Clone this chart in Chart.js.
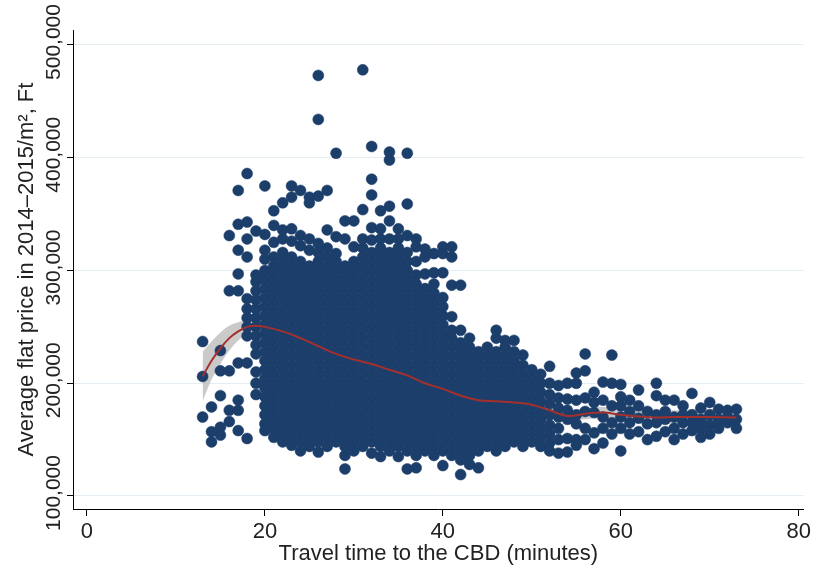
<!DOCTYPE html>
<html>
<head>
<meta charset="utf-8">
<script src="https://cdn.jsdelivr.net/npm/chart.js@4.4.1/dist/chart.umd.min.js"></script>
<style>
  html, body { margin: 0; padding: 0; background: #fff; }
  #wrap { width: 814px; height: 573px; }
</style>
</head>
<body>
<div id="wrap"><canvas id="chart" width="814" height="573"></canvas></div>
<script>
// prices are in thousand Ft / m2, grouped by travel time (minutes)
const westFringe = [
  [13, [237, 206, 170]],
  [14, [179, 157, 148]],
  [15, [229, 211, 189, 161, 154]],
  [16, [331, 282, 211, 176, 166]],
  [17, [371, 341, 318, 297, 282, 218, 185, 176, 158]],
  [18, [386, 343, 328, 312, 275, 266, 258, 250, 242, 218, 151]],
  [19, [335, 296, 290, 282, 274, 266, 258, 250, 242, 234, 226, 210, 200, 190]]
];

const denseCore = [
  [20, [375, 332, 318, 310, 300, 292, 284, 276, 268, 260, 252, 244, 236, 228, 220, 212, 204, 196, 188, 180, 172, 164, 158]],
  [21, [353, 340, 325, 312, 304, 296, 288, 280, 272, 264, 256, 248, 240, 232, 224, 216, 208, 200, 192, 184, 176, 168, 160, 152]],
  [22, [360, 336, 328, 316, 308, 300, 292, 284, 276, 268, 260, 252, 244, 236, 228, 220, 212, 204, 196, 188, 180, 172, 164, 156, 148]],
  [23, [375, 365, 337, 326, 312, 304, 296, 288, 280, 272, 264, 256, 248, 240, 232, 224, 216, 208, 200, 192, 184, 176, 168, 160, 152, 145]],
  [24, [371, 331, 322, 308, 300, 292, 284, 276, 268, 260, 252, 244, 236, 228, 220, 212, 204, 196, 188, 180, 172, 164, 156, 148, 140]],
  [25, [365, 360, 328, 318, 304, 296, 288, 280, 272, 264, 256, 248, 240, 232, 224, 216, 208, 200, 192, 184, 176, 168, 160, 152, 144]],
  [26, [473, 434, 366, 324, 316, 308, 300, 292, 284, 276, 268, 260, 252, 244, 236, 228, 220, 212, 204, 196, 188, 180, 172, 164, 156, 148, 139]],
  [27, [371, 336, 320, 312, 304, 296, 288, 280, 272, 264, 256, 248, 240, 232, 224, 216, 208, 200, 192, 184, 176, 168, 160, 152, 144]],
  [28, [404, 330, 315, 308, 300, 292, 284, 276, 268, 260, 252, 244, 236, 228, 220, 212, 204, 196, 188, 180, 172, 164, 156, 148]],
  [29, [344, 328, 304, 296, 288, 280, 272, 264, 256, 248, 240, 232, 224, 216, 208, 200, 192, 184, 176, 168, 160, 152, 144, 136, 124]],
  [30, [344, 321, 308, 300, 292, 284, 276, 268, 260, 252, 244, 236, 228, 220, 212, 204, 196, 188, 180, 172, 164, 156, 148, 140]],
  [31, [478, 354, 328, 320, 312, 304, 296, 288, 280, 272, 264, 256, 248, 240, 232, 224, 216, 208, 200, 192, 184, 176, 168, 160, 152, 144]],
  [32, [410, 381, 367, 338, 327, 316, 308, 300, 292, 284, 276, 268, 260, 252, 244, 236, 228, 220, 212, 204, 196, 188, 180, 172, 164, 156, 148, 138]],
  [33, [353, 337, 328, 320, 312, 304, 296, 288, 280, 272, 264, 256, 248, 240, 232, 224, 216, 208, 200, 192, 184, 176, 168, 160, 152, 144, 135]],
  [34, [405, 398, 357, 344, 328, 316, 308, 300, 292, 284, 276, 268, 260, 252, 244, 236, 228, 220, 212, 204, 196, 188, 180, 172, 164, 156, 148, 140]],
  [35, [337, 328, 320, 312, 304, 296, 288, 280, 272, 264, 256, 248, 240, 232, 224, 216, 208, 200, 192, 184, 176, 168, 160, 152, 144, 135]],
  [36, [404, 359, 331, 316, 308, 300, 292, 284, 276, 268, 260, 252, 244, 236, 228, 220, 212, 204, 196, 188, 180, 172, 164, 156, 148, 140, 124]],
  [37, [328, 321, 308, 296, 288, 280, 272, 264, 256, 248, 240, 232, 224, 216, 208, 200, 192, 184, 176, 168, 160, 152, 144, 136, 125]],
  [38, [319, 312, 297, 284, 276, 268, 260, 252, 244, 236, 228, 220, 212, 204, 196, 188, 180, 172, 164, 156, 148, 140]],
  [39, [315, 298, 288, 280, 272, 264, 256, 248, 240, 232, 224, 216, 208, 200, 192, 184, 176, 168, 160, 152, 144, 136]],
  [40, [321, 315, 298, 276, 268, 260, 252, 244, 236, 228, 220, 212, 204, 196, 188, 180, 172, 164, 156, 148, 140, 127]],
  [41, [321, 312, 287, 259, 247, 240, 232, 224, 216, 208, 200, 192, 184, 176, 168, 160, 152, 144, 136]],
  [42, [287, 247, 236, 228, 220, 212, 204, 196, 188, 180, 172, 164, 156, 148, 140, 132, 119]],
  [43, [240, 232, 224, 216, 208, 200, 192, 184, 176, 168, 160, 152, 144, 136, 128]],
  [44, [228, 220, 212, 204, 196, 188, 180, 172, 164, 156, 148, 140, 125]],
  [45, [232, 224, 216, 208, 200, 192, 184, 176, 168, 160, 152, 144]],
  [46, [247, 240, 228, 220, 212, 204, 196, 188, 180, 172, 164, 156, 148, 140]],
  [47, [238, 232, 224, 216, 208, 200, 192, 184, 176, 168, 160, 152, 144]],
  [48, [238, 228, 220, 212, 204, 196, 188, 180, 172, 164, 156, 148]],
  [49, [225, 216, 208, 200, 192, 184, 176, 168, 160, 152, 144]],
  [50, [212, 204, 196, 188, 180, 172, 164, 156, 148]],
  [51, [208, 200, 192, 184, 176, 168, 160, 152, 144]]
];

const eastTail = [
  [52, [215, 200, 190, 182, 172, 163, 155, 147, 140]],
  [53, [198, 187, 178, 170, 160, 150, 138]],
  [54, [200, 186, 176, 168, 151, 139]],
  [55, [209, 200, 185, 172, 164, 150, 145]],
  [56, [226, 211, 187, 175, 160, 150]],
  [57, [192, 183, 174, 156, 142]],
  [58, [201, 185, 170, 160, 147]],
  [59, [225, 200, 180, 165, 155]],
  [60, [199, 188, 180, 170, 160, 140]],
  [61, [185, 175, 165, 155]],
  [62, [194, 180, 169, 157]],
  [63, [175, 164, 150]],
  [64, [200, 189, 172, 165, 153]],
  [65, [185, 175, 168, 157]],
  [66, [185, 170, 160, 150]],
  [67, [180, 172, 165, 155]],
  [68, [191, 172, 165, 158]],
  [69, [178, 168, 160, 152]],
  [70, [183, 172, 163, 155]],
  [71, [177, 168, 160]],
  [72, [176, 170, 165]],
  [73, [177, 168, 160]]
];

// local polynomial fit and its confidence band (thousand Ft)
const fitMinutes = [13, 14, 15, 16, 17, 18, 19, 20, 22, 24, 26, 28, 30, 32, 34, 36, 38, 40, 42, 44, 46, 48, 50, 52, 54, 56, 58, 60, 62, 64, 66, 68, 70, 73];
const fitPrice = [206, 220, 231, 240, 246, 250, 251, 250, 246, 240, 233, 226, 221, 217, 212, 207, 200, 195, 189, 185, 184, 183, 181, 176, 171, 173, 174, 172, 170.5, 169.6, 170, 170, 170, 169.6];
const fitLow = [184, 203, 217, 229, 238, 244, 246, 246, 243, 237, 230, 223, 218, 214, 209, 204, 197, 192, 186, 182, 181, 180, 177, 171, 166, 168, 169, 167, 164.5, 163.6, 164, 163, 163, 161.6];
const fitHigh = [228, 237, 245, 251, 254, 256, 256, 254, 249, 243, 236, 229, 224, 220, 215, 210, 203, 198, 192, 188, 187, 186, 185, 181, 176, 178, 179, 177, 176.5, 175.6, 176, 177, 177, 177.6];

const xTicks = [0, 20, 40, 60, 80];
const yTicks = [100000, 200000, 300000, 400000, 500000];
const yTickLabels = ['100,000', '200,000', '300,000', '400,000', '500,000'];

const FONT = "'Liberation Sans', Arial, Helvetica, sans-serif";
const NAVY = '#1c3e6a';
const RED = '#a4302d';
const TEXT = '#222';

const toPoints = cols => cols.flatMap(([m, prices]) => prices.map(p => ({ x: m, y: p * 1000 })));
const toCurve = vals => fitMinutes.map((m, i) => ({ x: m, y: vals[i] * 1000 }));

// Chart.js can't rotate labels on a vertical scale, so draw them here
const rotatedYLabels = {
  id: 'rotatedYLabels',
  afterDraw(chart) {
    const { ctx, scales: { y } } = chart;
    ctx.save();
    ctx.font = '21px ' + FONT;
    ctx.fillStyle = TEXT;
    ctx.textAlign = 'center';
    ctx.textBaseline = 'middle';
    yTicks.forEach((v, i) => {
      const py = y.getPixelForValue(v);
      ctx.save();
      ctx.translate(y.right - 19, py - 3);
      ctx.rotate(-Math.PI / 2);
      ctx.fillText(yTickLabels[i], 0, 0);
      ctx.restore();
    });
    ctx.restore();
  }
};

new Chart(document.getElementById('chart'), {
  type: 'scatter',
  data: {
    datasets: [
      {
        label: 'ci low',
        data: toCurve(fitLow),
        showLine: true,
        pointRadius: 0,
        borderWidth: 0,
        borderColor: 'rgba(0,0,0,0)',
        tension: 0.4,
        fill: false,
        order: 3
      },
      {
        label: 'ci high',
        data: toCurve(fitHigh),
        showLine: true,
        pointRadius: 0,
        borderWidth: 0,
        borderColor: 'rgba(0,0,0,0)',
        backgroundColor: 'rgba(196,196,196,0.9)',
        tension: 0.4,
        fill: '-1',
        order: 3
      },
      {
        label: 'flats',
        data: toPoints([...westFringe, ...denseCore, ...eastTail]),
        pointRadius: 5.5,
        pointBackgroundColor: NAVY,
        pointBorderColor: NAVY,
        pointBorderWidth: 0.5,
        order: 2
      },
      {
        label: 'fit',
        data: toCurve(fitPrice),
        showLine: true,
        pointRadius: 0,
        borderColor: RED,
        borderWidth: 2,
        tension: 0.4,
        fill: false,
        order: 1
      }
    ]
  },
  options: {
    responsive: false,
    animation: false,
    devicePixelRatio: 1,
    layout: { padding: { top: 30, right: 9, left: 0, bottom: 0 } },
    plugins: { legend: { display: false }, tooltip: { enabled: false } },
    scales: {
      x: {
        type: 'linear',
        min: -1.57,
        max: 80.56,
        afterBuildTicks: s => { s.ticks = xTicks.map(v => ({ value: v })); },
        afterFit: s => { s.height = 64; },
        grid: { drawOnChartArea: false, drawTicks: true, tickLength: 7, tickColor: '#000', tickWidth: 1 },
        border: { color: '#000', width: 1 },
        ticks: { font: { family: FONT, size: 22 }, color: TEXT, padding: 3, maxRotation: 0, autoSkip: false },
        title: {
          display: true,
          text: 'Travel time to the CBD (minutes)',
          font: { family: FONT, size: 22 },
          color: TEXT,
          padding: { top: 0, bottom: 6 }
        }
      },
      y: {
        type: 'linear',
        min: 88470,
        max: 513300,
        afterBuildTicks: s => { s.ticks = yTicks.map(v => ({ value: v })); },
        afterFit: s => { s.width = 73; },
        grid: { color: '#e4edf2', lineWidth: 1, drawTicks: true, tickLength: 6, tickColor: '#000' },
        border: { color: '#000', width: 1 },
        ticks: { display: false },
        title: {
          display: true,
          text: 'Average flat price in 2014–2015/m², Ft',
          font: { family: FONT, size: 22 },
          color: TEXT,
          padding: { top: 14, bottom: 0 }
        }
      }
    }
  },
  plugins: [rotatedYLabels]
});
</script>
</body>
</html>
